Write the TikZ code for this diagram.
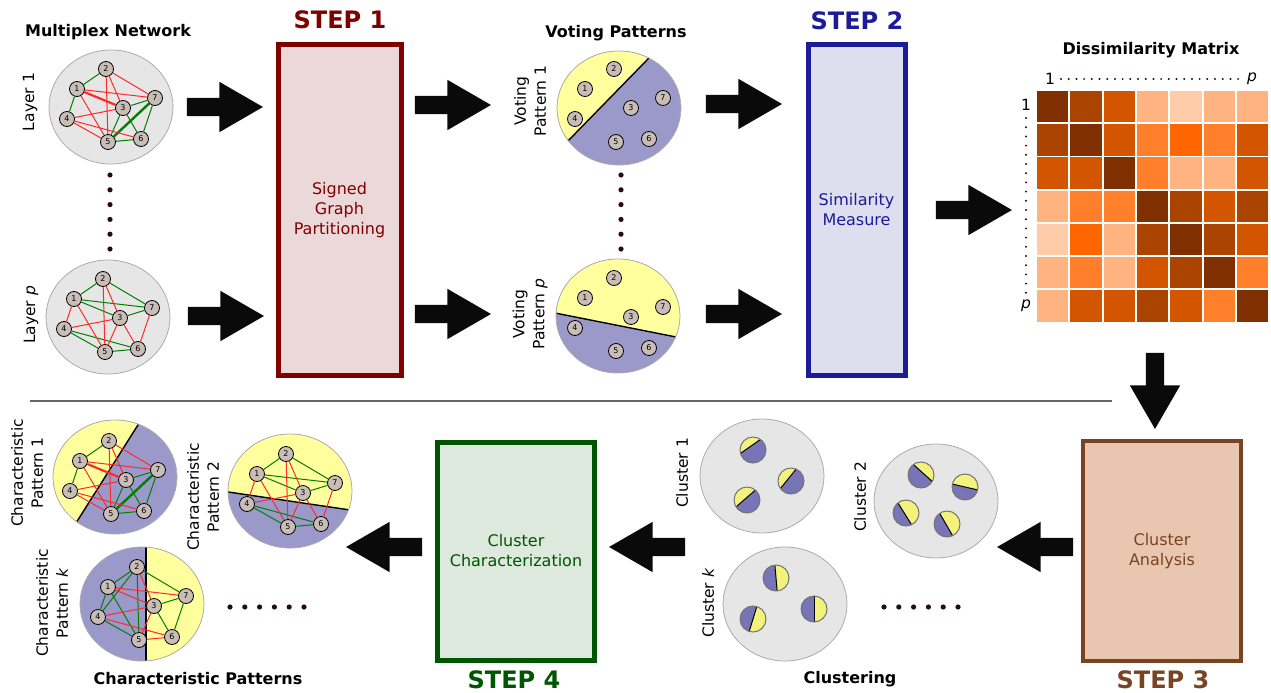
\documentclass[tikz,border=0pt]{standalone}
\usepackage{fontspec}
\setmainfont{DejaVu Sans}
\usetikzlibrary{shapes.arrows,calc}

\definecolor{diskgray}{HTML}{E6E6E6}
\definecolor{diskrim}{HTML}{ABABAB}
\definecolor{vertexfill}{HTML}{C8BEB7}
\definecolor{agreecol}{HTML}{008000}
\definecolor{disagreecol}{HTML}{FF2A2A}
\definecolor{yescol}{HTML}{FFFF9E}
\definecolor{nocol}{HTML}{9A99CA}
\definecolor{pieyes}{HTML}{F2F27C}
\definecolor{pieno}{HTML}{7775B5}
\definecolor{dotcol}{HTML}{2B0A0A}
\definecolor{arrowcol}{HTML}{0A0A0A}
\definecolor{stepone}{HTML}{800000}
\definecolor{steponefill}{HTML}{EBD9DA}
\definecolor{steptwo}{HTML}{1C1C99}
\definecolor{steptwofill}{HTML}{DEDEEF}
\definecolor{stepthree}{HTML}{784421}
\definecolor{stepthreefill}{HTML}{E9C6AF}
\definecolor{stepfour}{HTML}{005500}
\definecolor{stepfourfill}{HTML}{DEE9DD}
\definecolor{shade0}{HTML}{803000}
\definecolor{shade1}{HTML}{AA4400}
\definecolor{shade2}{HTML}{D45500}
\definecolor{shade3}{HTML}{FF7F2A}
\definecolor{shade4}{HTML}{FF6600}
\definecolor{shade5}{HTML}{FFB380}
\definecolor{shade6}{HTML}{FFCCAA}

\tikzset{
  vertex/.style={circle, draw=black, line width=0.8pt, fill=vertexfill, minimum size=15pt, inner sep=0pt, font=\fontsize{8}{8}\selectfont},
  agree/.style={draw=agreecol, line width=1pt},
  disagree/.style={draw=disagreecol, line width=1pt},
  agreebold/.style={draw=agreecol, line width=2.4pt},
  disagreebold/.style={draw=disagreecol, line width=2.2pt},
  graydisk/.style={fill=diskgray, draw=diskrim, line width=0.8pt},
  diskrimline/.style={draw=diskrim, line width=0.8pt},
  split/.style={draw=black, line width=1.4pt},
  blockarrow/.style={single arrow, fill=arrowcol, minimum height=76pt, inner xsep=0pt, inner ysep=9pt, single arrow head extend=16pt, single arrow tip angle=60},
  stepbox/.style 2 args={draw=#1, fill=#2, text=#1, line width=5pt, align=center, font=\fontsize{16}{20}\selectfont},
  steptitle/.style={font=\bfseries\fontsize{24}{24}\selectfont},
  heading/.style={font=\bfseries\fontsize{16}{18}\selectfont},
  sidelabel/.style={rotate=90, align=center, font=\fontsize{15.5}{20}\selectfont},
  plainlabel/.style={font=\fontsize{15.5}{18}\selectfont},
  cell/.style={minimum size=31.3pt, inner sep=0pt},
  dotrow/.style={draw=dotcol, line width=2.2pt, line cap=round, dash pattern=on 0pt off #1},
  separator/.style={draw=black!60, line width=1.3pt}
}

\newcommand{\graphvertices}[3]{%
  \foreach \v/\dx/\dy in {1/-34/-18, 2/-5/-38, 3/12/1, 4/-44/12, 5/-3/35, 6/30/32, 7/44/-9}
    \node[vertex] (#1\v) at ({#2+\dx},{#3+\dy}) {\v};}
\newcommand{\graphedges}[2]{%
  \foreach \a/\b/\s in #2
    \draw[\s] (#1\a) -- (#1\b);}
\newcommand{\splitdisk}[4]{%
  \begin{scope}
    \clip (#1,#2) ellipse (62 and 57);
    \fill[nocol] (#1,#2) ellipse (62 and 57);
    \fill[yescol] ($(#1,#2)+(#3-90:#4)$) ++(#3:80) -- ++(#3-90:130) -- ++(#3+180:160) -- ++(#3+90:130) -- cycle;
    \draw[split] ($(#1,#2)+(#3-90:#4)+(#3:80)$) -- ++(#3+180:160);
  \end{scope}
  \draw[diskrimline] (#1,#2) ellipse (62 and 57);}
\newcommand{\minipie}[4]{%
  \begin{scope}
    \clip (#1,#2) circle (13);
    \fill[pieno] (#1,#2) circle (13);
    \fill[pieyes] ($(#1,#2)+(#3-90:#4)$) ++(#3:16) -- ++(#3-90:20) -- ++(#3+180:32) -- ++(#3+90:20) -- cycle;
    \draw[split, line width=1pt] ($(#1,#2)+(#3-90:#4)+(#3:16)$) -- ++(#3+180:32);
  \end{scope}
  \draw[diskrimline, draw=black!55, line width=1pt] (#1,#2) circle (13);}

\newcommand{\firstlayeredges}{1/2/agree, 1/4/agree, 3/7/agree, 3/5/agree, 3/6/agree, 5/6/agree, 6/7/agree, 5/7/agreebold, 2/7/disagree, 2/3/disagree, 2/5/disagree, 1/7/disagree, 1/5/disagree, 4/3/disagree, 4/5/disagree, 4/6/disagree, 1/3/disagreebold}
\newcommand{\lastlayeredges}{1/2/agree, 2/7/agree, 1/7/agree, 1/3/agree, 3/7/agree, 4/5/agree, 4/6/agree, 5/6/agree, 2/5/disagree, 2/3/disagree, 1/4/disagree, 1/5/disagree, 4/3/disagree, 3/5/disagree, 3/6/disagree, 6/7/disagree}
\newcommand{\kthpatternedges}{1/2/agree, 2/4/agree, 2/5/agree, 2/7/agree, 1/4/agree, 1/5/agree, 4/5/agree, 3/7/agree, 3/6/agree, 6/7/agree, 2/3/disagree, 1/7/disagree, 1/3/disagree, 4/3/disagree, 4/6/disagree, 3/5/disagree, 5/6/disagree}

\begin{document}
\begin{tikzpicture}[x=1pt, y=-1pt]
\useasboundingbox (0,0) rectangle (1271,693);

\node[heading] (multiplex) at (108,32) {Multiplex Network};
\node[sidelabel] (layerone) at (30,102) {Layer 1};
\node[sidelabel] (layerp) at (31,315) {Layer \textit{p}};
\draw[graydisk] (111,107) ellipse (62 and 57);
\graphvertices{L1}{111}{107}
\graphedges{L1}{\firstlayeredges}
\draw[graydisk] (108,317) ellipse (62 and 57);
\graphvertices{Lp}{108}{317}
\graphedges{Lp}{\lastlayeredges}
\foreach \k in {0,...,5}
  \fill[dotcol] (110,{175+14.8*\k}) circle (2.6);

\node[steptitle, text=stepone] (steponetitle) at (340,20) {STEP 1};
\node[stepbox={stepone}{steponefill}, minimum width=123pt, minimum height=330pt] (stepone) at (339.5,210) {Signed\\Graph\\Partitioning};

\node[heading] (voting) at (616,33) {Voting Patterns};
\node[sidelabel] (votingone) at (530,101) {Voting\\Pattern 1};
\node[sidelabel] (votingp) at (530,314) {Voting\\Pattern \textit{p}};
\splitdisk{619}{108}{-45.7}{13.5}
\graphvertices{V1}{619}{107}
\splitdisk{618}{316}{11.2}{-9.3}
\graphvertices{Vp}{619}{316}
\foreach \k in {0,...,5}
  \fill[dotcol] (621,{175+14.8*\k}) circle (2.6);

\node[steptitle, text=steptwo] (steptwotitle) at (857,21) {STEP 2};
\node[stepbox={steptwo}{steptwofill}, minimum width=97pt, minimum height=330pt] (steptwo) at (856.5,210) {Similarity\\Measure};

\node[heading] (dissim) at (1151,50) {Dissimilarity Matrix};
\node[plainlabel] (colfirst) at (1050,79) {1};
\node[plainlabel] (collast) at (1252,79) {\textit{p}};
\node[plainlabel] (rowfirst) at (1026,105) {1};
\node[plainlabel] (rowlast) at (1026,306) {\textit{p}};
\draw[dotrow=7.7pt] (1061,79) -- (1239,79);
\draw[dotrow=9.2pt] (1026,118) -- (1026,297);
\foreach \row [count=\r] in {{0,1,2,5,6,5,5},{1,0,2,3,4,3,2},{2,2,0,3,5,5,2},{5,3,3,0,1,2,1},{6,4,5,1,0,1,2},{5,3,5,2,1,0,3},{5,2,2,1,2,3,0}}
  \foreach \c [count=\k] in \row
    \node[cell, fill=shade\c] (m\r\k) at ({1052.65+33.3*(\k-1)},{106.65+33.2*(\r-1)}) {};

\node[blockarrow] (arrowLone) at (217,107) {};
\node[blockarrow] (arrowLp) at (218,316) {};
\node[blockarrow] (arrowVone) at (445,105) {};
\node[blockarrow] (arrowVp) at (445,314) {};
\node[blockarrow] (arrowSone) at (736,104) {};
\node[blockarrow] (arrowSp) at (736,314) {};
\node[blockarrow] (arrowM) at (966,210) {};
\node[blockarrow, rotate=-90] (arrowdown) at (1155,383) {};

\draw[separator] (30,401) -- (1112,401);

\node[stepbox={stepthree}{stepthreefill}, minimum width=158pt, minimum height=220pt, line width=4.5pt] (stepthree) at (1162,551) {Cluster\\Analysis};
\node[steptitle, text=stepthree] (stepthreetitle) at (1163,680) {STEP 3};
\node[blockarrow, rotate=180] (arrowcluster) at (1043,547) {};

\node[heading] (clustering) at (850,679) {Clustering};
\node[sidelabel] (clusterone) at (682,473) {Cluster 1};
\node[sidelabel] (clustertwo) at (860,497) {Cluster 2};
\node[sidelabel] (clusterk) at (708,603) {Cluster \textit{k}};
\draw[graydisk] (762,476) ellipse (62 and 57);
\minipie{753}{450}{-35}{4.4}
\minipie{791}{481}{-51}{3.5}
\minipie{747}{500}{-41}{2}
\draw[graydisk] (936,501) ellipse (62 and 57);
\minipie{921}{475}{42}{2.7}
\minipie{965}{487}{13}{0}
\minipie{906}{513}{58}{-1.5}
\minipie{947}{524}{60}{-1}
\draw[graydisk] (785,604) ellipse (62 and 57);
\minipie{776}{578}{85}{0}
\minipie{814}{609}{90}{0}
\minipie{753}{619}{107}{0}
\foreach \k in {0,...,5}
  \fill[dotcol] ({884+14.8*\k},607) circle (2.6);
\node[blockarrow, rotate=180] (arrowchar) at (655,547) {};

\node[stepbox={stepfour}{stepfourfill}, minimum width=157pt, minimum height=218pt] (stepfour) at (516,551) {Cluster\\Characterization};
\node[steptitle, text=stepfour] (stepfourtitle) at (514,680) {STEP 4};
\node[blockarrow, rotate=180] (arrowpattern) at (392,547) {};

\node[heading] (charpatterns) at (198,679) {Characteristic Patterns};
\node[sidelabel] (charone) at (27,473) {Characteristic\\Pattern 1};
\node[sidelabel] (chartwo) at (203,497) {Characteristic\\Pattern 2};
\node[sidelabel] (chark) at (52,603) {Characteristic\\Pattern \textit{k}};
\splitdisk{115}{477}{-57.7}{8.4}
\graphvertices{C1}{114}{479}
\graphedges{C1}{\firstlayeredges}
\splitdisk{290}{491}{8.4}{-10}
\graphvertices{C2}{291}{492}
\graphedges{C2}{\lastlayeredges}
\splitdisk{142}{604}{90}{4}
\graphvertices{Ck}{142}{605}
\graphedges{Ck}{\kthpatternedges}
\foreach \k in {0,...,5}
  \fill[dotcol] ({230+14.8*\k},607) circle (2.6);
\end{tikzpicture}
\end{document}
